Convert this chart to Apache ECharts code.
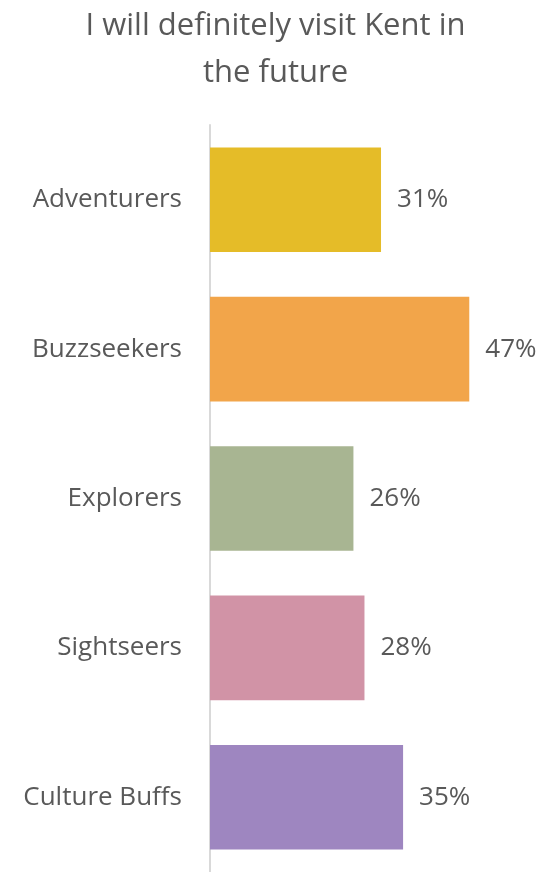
<!DOCTYPE html>
<html>
<head>
<meta charset="utf-8">
<script src="https://cdn.jsdelivr.net/npm/echarts@6/dist/echarts.min.js"></script>
<style>
html, body { margin: 0; padding: 0; background: #fff; }
#kentchart { width: 551px; height: 872px; }
</style>
</head>
<body>
<div id="kentchart"></div>
<script>
var segments = ['Adventurers', 'Buzzseekers', 'Explorers', 'Sightseers', 'Culture Buffs'];
var visitPct = [31, 47, 26, 28, 35];
var barColors = ['#E5BC28', '#F2A54A', '#A8B592', '#D193A6', '#9E86C0'];

var kentchart = echarts.init(document.getElementById('kentchart'));
var kentoption = {
    animation: false,
    textStyle: { fontFamily: 'Open Sans' },
    title: {
        text: 'I will definitely visit Kent in\nthe future',
        left: 'center',
        top: -2,
        textStyle: {
            fontFamily: 'Open Sans',
            fontSize: 31,
            fontWeight: 'normal',
            color: '#595959',
            lineHeight: 47
        }
    },
    grid: { left: 210, right: 10, top: 125, bottom: -3, containLabel: false },
    xAxis: {
        type: 'value',
        min: 0,
        max: 60,
        show: false
    },
    yAxis: {
        type: 'category',
        inverse: true,
        data: segments,
        axisLine: { show: true, lineStyle: { color: '#D9D9D9', width: 2 } },
        axisTick: { show: false },
        axisLabel: {
            fontFamily: 'Open Sans',
            fontSize: 26,
            color: '#595959',
            margin: 28
        }
    },
    series: [
        {
            type: 'bar',
            barCategoryGap: '30%',
            data: visitPct.map(function (v, i) {
                return { value: v, itemStyle: { color: barColors[i] } };
            }),
            label: {
                show: true,
                position: 'right',
                distance: 16,
                fontFamily: 'Open Sans',
                fontSize: 26,
                color: '#595959',
                formatter: '{c}%'
            }
        }
    ]
};
kentchart.setOption(kentoption);
</script>
</body>
</html>
